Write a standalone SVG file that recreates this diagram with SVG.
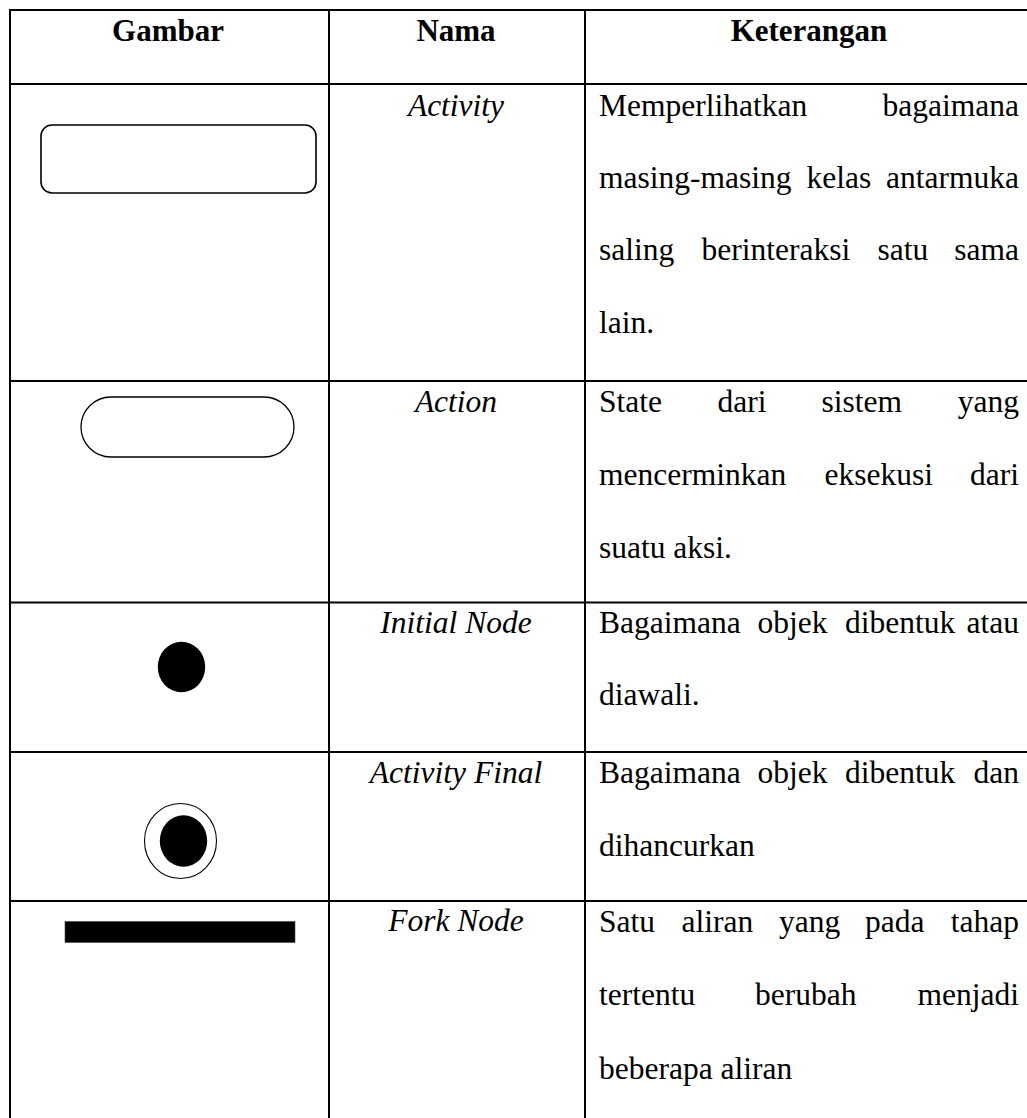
<svg xmlns="http://www.w3.org/2000/svg" width="1027" height="1118" viewBox="0 0 1027 1118">
  <style>
    .grid { stroke: #000; stroke-width: 2; fill: none; }
    .hd { font-family: "Liberation Serif", "Times New Roman", serif; font-weight: bold; font-size: 31px; fill: #000; text-anchor: middle; }
    .nm { font-family: "Liberation Serif", "Times New Roman", serif; font-style: italic; font-size: 31.5px; fill: #000; text-anchor: middle; }
    .tx { font-family: "Liberation Serif", "Times New Roman", serif; font-size: 31.5px; fill: #000; }
    .end { text-anchor: end; }
    .shape { fill: #fff; stroke: #000; }
    .solid { fill: #000; stroke: none; }
  </style>
  <rect x="0" y="0" width="1027" height="1118" fill="#fff"/>

  <g id="grid" class="grid">
    <line x1="10" y1="10" x2="1027" y2="10"/>
    <line x1="10" y1="84" x2="1027" y2="84"/>
    <line x1="10" y1="381" x2="1027" y2="381"/>
    <line x1="10" y1="602.5" x2="1027" y2="602.5"/>
    <line x1="10" y1="752" x2="1027" y2="752"/>
    <line x1="10" y1="901" x2="1027" y2="901"/>
    <line x1="10" y1="9" x2="10" y2="1118"/>
    <line x1="329" y1="9" x2="329" y2="1118"/>
    <line x1="585" y1="9" x2="585" y2="1118"/>
  </g>

  <g id="connectors"></g>

  <g id="header">
    <text class="hd" x="168" y="41">Gambar</text>
    <text class="hd" x="456" y="41">Nama</text>
    <text class="hd" x="809" y="41">Keterangan</text>
  </g>

  <g id="row-activity">
    <rect class="shape" x="41" y="125" width="275" height="68" rx="11" ry="11" stroke-width="1.6"/>
    <text class="nm" x="456" y="115.5">Activity</text>
    <text class="tx" x="599" y="115.5">Memperlihatkan</text>
    <text class="tx end" x="1019" y="115.5">bagaimana</text>
    <text class="tx" x="599" y="187.5">masing-masing</text>
    <text class="tx" x="806.5" y="187.5">kelas</text>
    <text class="tx end" x="1019" y="187.5">antarmuka</text>
    <text class="tx" x="599" y="260">saling</text>
    <text class="tx" x="701.5" y="260">berinteraksi</text>
    <text class="tx" x="877.5" y="260">satu</text>
    <text class="tx end" x="1019" y="260">sama</text>
    <text class="tx" x="599" y="333">lain.</text>
  </g>

  <g id="row-action">
    <rect class="shape" x="81" y="397" width="213" height="60" rx="30" ry="30" stroke-width="1.3"/>
    <text class="nm" x="456" y="411.5">Action</text>
    <text class="tx" x="599" y="411.5">State</text>
    <text class="tx" x="717.5" y="411.5">dari</text>
    <text class="tx" x="821.5" y="411.5">sistem</text>
    <text class="tx end" x="1019" y="411.5">yang</text>
    <text class="tx" x="599" y="484.5">mencerminkan</text>
    <text class="tx" x="824.5" y="484.5">eksekusi</text>
    <text class="tx end" x="1019" y="484.5">dari</text>
    <text class="tx" x="599" y="558">suatu aksi.</text>
  </g>

  <g id="row-initial">
    <ellipse class="solid" cx="181.5" cy="667" rx="23.7" ry="25.3"/>
    <text class="nm" x="456" y="633">Initial Node</text>
    <text class="tx" x="599" y="633">Bagaimana</text>
    <text class="tx" x="757.5" y="633">objek</text>
    <text class="tx" x="845" y="633">dibentuk</text>
    <text class="tx end" x="1019" y="633">atau</text>
    <text class="tx" x="599" y="705">diawali.</text>
  </g>

  <g id="row-final">
    <ellipse class="shape" cx="180.5" cy="841" rx="36" ry="37.5" stroke-width="1.1"/>
    <ellipse class="solid" cx="183.5" cy="841" rx="23.7" ry="25.8"/>
    <text class="nm" x="456" y="783">Activity Final</text>
    <text class="tx" x="599" y="783">Bagaimana</text>
    <text class="tx" x="757.5" y="783">objek</text>
    <text class="tx" x="845" y="783">dibentuk</text>
    <text class="tx end" x="1019" y="783">dan</text>
    <text class="tx" x="599" y="855.5">dihancurkan</text>
  </g>

  <g id="row-fork">
    <rect x="65" y="921.5" width="230" height="21" fill="#000" stroke="#444" stroke-width="0.6"/>
    <text class="nm" x="456" y="931">Fork Node</text>
    <text class="tx" x="599" y="931.5">Satu</text>
    <text class="tx" x="681.5" y="931.5">aliran</text>
    <text class="tx" x="779" y="931.5">yang</text>
    <text class="tx" x="865" y="931.5">pada</text>
    <text class="tx end" x="1019" y="931.5">tahap</text>
    <text class="tx" x="599" y="1005">tertentu</text>
    <text class="tx" x="755" y="1005">berubah</text>
    <text class="tx end" x="1019" y="1005">menjadi</text>
    <text class="tx" x="599" y="1078.5">beberapa aliran</text>
  </g>
</svg>
